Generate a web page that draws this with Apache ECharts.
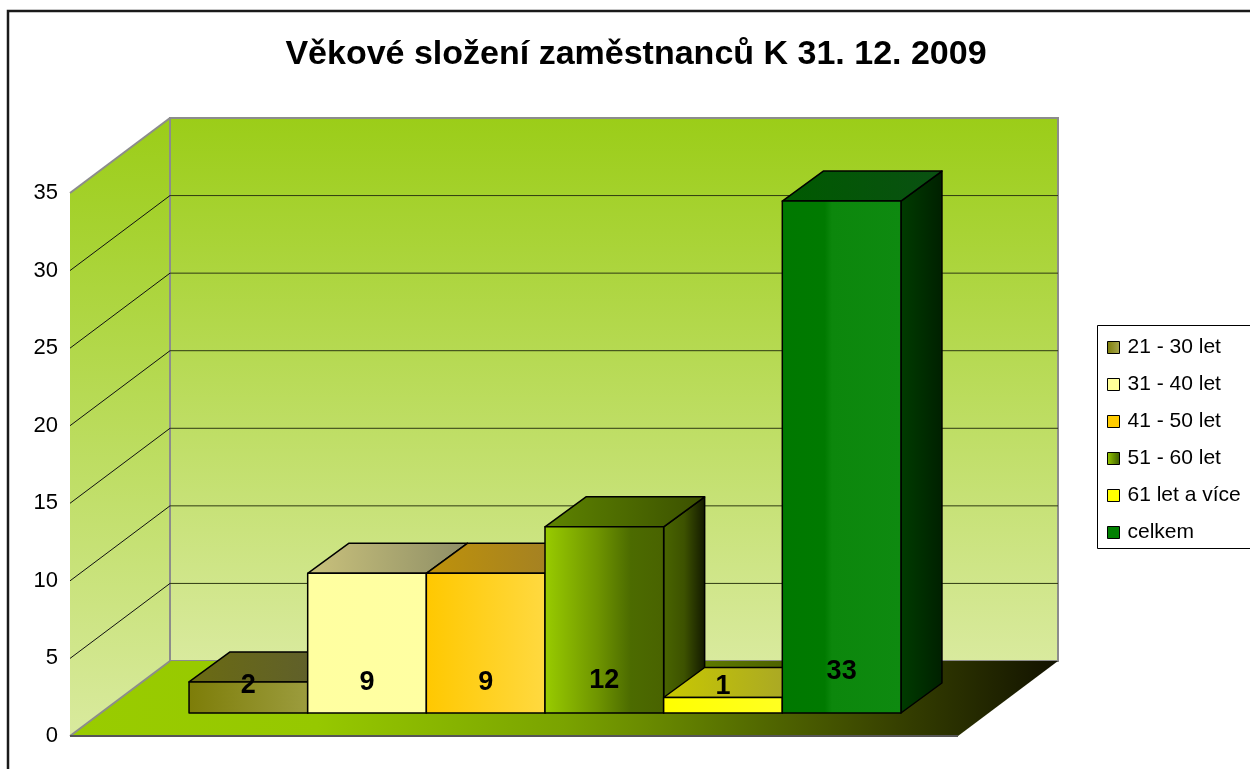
<!DOCTYPE html>
<html>
<head>
<meta charset="utf-8">
<title>Věkové složení zaměstnanců</title>
<script src="https://cdn.jsdelivr.net/npm/echarts@6/dist/echarts.min.js"></script>
<style>
  html, body { margin: 0; padding: 0; background: #fff; }
  #chart { width: 1250px; height: 769px; }
</style>
</head>
<body>
<div id="chart"></div>
<script>
// data
const titleText = 'Věkové složení zaměstnanců K 31. 12. 2009'
const categories = ['21 - 30 let', '31 - 40 let', '41 - 50 let', '51 - 60 let', '61 let a více', 'celkem']
const values = [2, 9, 9, 12, 1, 33]
const yTicks = [0, 5, 10, 15, 20, 25, 30, 35]

// 3D look (pixel offsets for depth)
const FLOOR_DEPTH = [100, -75]
const BAR_FRONT = [31, -23]
const BAR_DEPTH = [41, -30]
const X_MIN = -1.242
const X_MAX = 6.242
const FONT = 'Liberation Sans, Arial, sans-serif'

const G = echarts.graphic.LinearGradient
const hGrad = (stops) => new G(0, 0, 1, 0, stops.map((c, i) => Array.isArray(c) ? { offset: c[0], color: c[1] } : { offset: i / (stops.length - 1), color: c }))

// front / top / side shading per series
const barStyles = [
  { front: hGrad(['#7d7d08', '#9c9c3e']), top: hGrad(['#6b6b12', '#5c5c32']), side: hGrad(['#4a4a00', '#2a2a00']), legend: hGrad(['#7d7d08', '#a8a850']) },
  { front: hGrad(['#ffffa0', '#ffffa2']), top: hGrad(['#cac27c', '#8e8e66']), side: hGrad(['#8f8f60', '#6a6a40']), legend: '#ffff99' },
  { front: hGrad(['#ffc800', '#ffd940']), top: hGrad(['#bf920a', '#9c7c2a']), side: hGrad(['#806010', '#503a00']), legend: '#ffcc00' },
  { front: hGrad([[0, '#99cc00'], [0.45, '#6e9400'], [0.72, '#4c6b00'], [1, '#496300']]), top: hGrad(['#5e8400', '#3b5000']), side: hGrad([[0, '#4a6600'], [0.5, '#3d5200'], [1, '#121800']]), legend: hGrad(['#99cc00', '#3a5a00']) },
  { front: hGrad(['#ffff00', '#ffff22']), top: hGrad(['#c9c900', '#a09e30']), side: hGrad(['#6a6a00', '#3a3a00']), legend: '#ffff00' },
  { front: hGrad([[0, '#007800'], [0.36, '#007a00'], [0.42, '#0c870c'], [1, '#0e8a10']]), top: hGrad(['#005a00', '#0a5012']), side: hGrad(['#003c00', '#002000']), legend: '#008000' }
]

function pt(api, x, v, off) {
  const p = api.coord([x, v])
  return [p[0] + off[0], p[1] + off[1]]
}
function add(a, b) {
  return [a[0] + b[0], a[1] + b[1]]
}
const ZERO = [0, 0]

function renderScene(params, api) {
  const vMax = yTicks[yTicks.length - 1]
  const wallGrad = new G(0, 0, 0, 1, [{ offset: 0, color: '#9bcd18' }, { offset: 1, color: '#d9ea9e' }])
  const floorGrad = hGrad([[0, '#99cc00'], [0.25, '#96c800'], [0.5, '#7aa300'], [0.64, '#5e7a00'], [0.82, '#3a4500'], [1, '#121200']])
  const children = []
  // left wall
  children.push({
    type: 'polygon',
    shape: { points: [pt(api, X_MIN, 0, ZERO), pt(api, X_MIN, vMax, ZERO), pt(api, X_MIN, vMax, FLOOR_DEPTH), pt(api, X_MIN, 0, FLOOR_DEPTH)] },
    style: { fill: wallGrad }
  })
  // back wall
  children.push({
    type: 'polygon',
    shape: { points: [pt(api, X_MIN, 0, FLOOR_DEPTH), pt(api, X_MIN, vMax, FLOOR_DEPTH), pt(api, X_MAX, vMax, FLOOR_DEPTH), pt(api, X_MAX, 0, FLOOR_DEPTH)] },
    style: { fill: wallGrad, stroke: '#8c8c8c', lineWidth: 2 }
  })
  // gridlines
  yTicks.forEach(v => {
    if (v === 0 || v === vMax) return
    const a = pt(api, X_MIN, v, FLOOR_DEPTH)
    const b = pt(api, X_MAX, v, FLOOR_DEPTH)
    children.push({ type: 'line', shape: { x1: a[0], y1: a[1], x2: b[0], y2: b[1] }, style: { stroke: '#2e3a12', lineWidth: 1 } })
    const c = pt(api, X_MIN, v, ZERO)
    children.push({ type: 'line', shape: { x1: c[0], y1: c[1], x2: a[0], y2: a[1] }, style: { stroke: '#111', lineWidth: 1 } })
  })
  // floor
  children.push({
    type: 'polygon',
    shape: { points: [pt(api, X_MIN, 0, ZERO), pt(api, X_MAX, 0, ZERO), pt(api, X_MAX, 0, FLOOR_DEPTH), pt(api, X_MIN, 0, FLOOR_DEPTH)] },
    style: { fill: floorGrad }
  })
  // grey edges
  const e1 = pt(api, X_MIN, 0, ZERO), e2 = pt(api, X_MIN, 0, FLOOR_DEPTH)
  const e3 = pt(api, X_MIN, vMax, ZERO), e4 = pt(api, X_MIN, vMax, FLOOR_DEPTH)
  const e5 = pt(api, X_MAX, 0, ZERO)
  children.push({ type: 'line', shape: { x1: e1[0], y1: e1[1], x2: e2[0], y2: e2[1] }, style: { stroke: '#8c8c8c', lineWidth: 2 } })
  children.push({ type: 'line', shape: { x1: e3[0], y1: e3[1], x2: e4[0], y2: e4[1] }, style: { stroke: '#8c8c8c', lineWidth: 2 } })
  children.push({ type: 'line', shape: { x1: e1[0], y1: e1[1], x2: e5[0], y2: e5[1] }, style: { stroke: '#555', lineWidth: 2 } })
  return { type: 'group', children }
}

function renderBar(params, api) {
  const i = api.value(0)
  const v = api.value(1)
  const s = barStyles[params.seriesIndex - 1]
  const x0 = i - 0.5, x1 = i + 0.5
  const BB = add(BAR_FRONT, BAR_DEPTH)
  const edge = { stroke: '#000', lineWidth: 1.5, lineJoin: 'round' }
  // label sits a bit higher on tall bars, like the original
  const lp = pt(api, i, 1.7 + v * 0.03, BAR_FRONT)
  return {
    type: 'group',
    children: [
      { type: 'polygon', shape: { points: [pt(api, x1, 0, BAR_FRONT), pt(api, x1, v, BAR_FRONT), pt(api, x1, v, BB), pt(api, x1, 0, BB)] }, style: Object.assign({ fill: s.side }, edge) },
      { type: 'polygon', shape: { points: [pt(api, x0, v, BAR_FRONT), pt(api, x1, v, BAR_FRONT), pt(api, x1, v, BB), pt(api, x0, v, BB)] }, style: Object.assign({ fill: s.top }, edge) },
      { type: 'polygon', shape: { points: [pt(api, x0, 0, BAR_FRONT), pt(api, x0, v, BAR_FRONT), pt(api, x1, v, BAR_FRONT), pt(api, x1, 0, BAR_FRONT)] }, style: Object.assign({ fill: s.front }, edge) },
      { type: 'text', x: lp[0], y: lp[1], style: { text: String(v), fill: '#000', font: 'bold 27px ' + FONT, textAlign: 'center', textVerticalAlign: 'middle' } }
    ]
  }
}

const chart = echarts.init(document.getElementById('chart'))

const series = [{
  type: 'custom',
  name: 'scene',
  silent: true,
  data: [[0, 0]],
  renderItem: renderScene,
  z: 1
}]
categories.forEach((name, i) => {
  series.push({
    type: 'custom',
    name: name,
    data: [[i, values[i]]],
    renderItem: renderBar,
    itemStyle: { color: barStyles[i].legend },
    z: 2
  })
})

chart.setOption({
  backgroundColor: '#fff',
  animation: false,
  graphic: [
    { type: 'rect', shape: { x: 8, y: 11, width: 1300, height: 800 }, style: { fill: 'none', stroke: '#1a1a1a', lineWidth: 2.5 }, z: 0 },
    { type: 'rect', shape: { x: 1097.5, y: 325.5, width: 200, height: 223 }, style: { fill: '#fff', stroke: '#000', lineWidth: 1 }, z: 0 },
    { type: 'text', x: 636, y: 55, style: { text: titleText, font: 'bold 34px ' + FONT, fill: '#000', textAlign: 'center', textVerticalAlign: 'middle' }, z: 5 }
  ],
  legend: {
    data: categories,
    orient: 'vertical',
    left: 1107,
    top: 337,
    padding: 0,
    itemWidth: 12,
    itemHeight: 12,
    itemGap: 16,
    icon: 'rect',
    itemStyle: { borderColor: '#000', borderWidth: 1 },
    textStyle: { fontSize: 21, lineHeight: 21, color: '#000', fontFamily: FONT, padding: [0, 0, 0, 3] },
    z: 5
  },
  grid: {
    left: 70,
    top: 193,
    width: 888,
    height: 543
  },
  xAxis: {
    type: 'value',
    min: X_MIN,
    max: X_MAX,
    show: false
  },
  yAxis: {
    type: 'value',
    min: 0,
    max: 35,
    interval: 5,
    axisLine: { show: true, lineStyle: { color: '#333', width: 1.5 } },
    axisTick: { show: true, length: 7, lineStyle: { color: '#333', width: 1 } },
    axisLabel: { fontSize: 22, color: '#000', margin: 12, fontFamily: 'Liberation Sans' },
    splitLine: { show: false }
  },
  series: series
})
</script>
</body>
</html>
